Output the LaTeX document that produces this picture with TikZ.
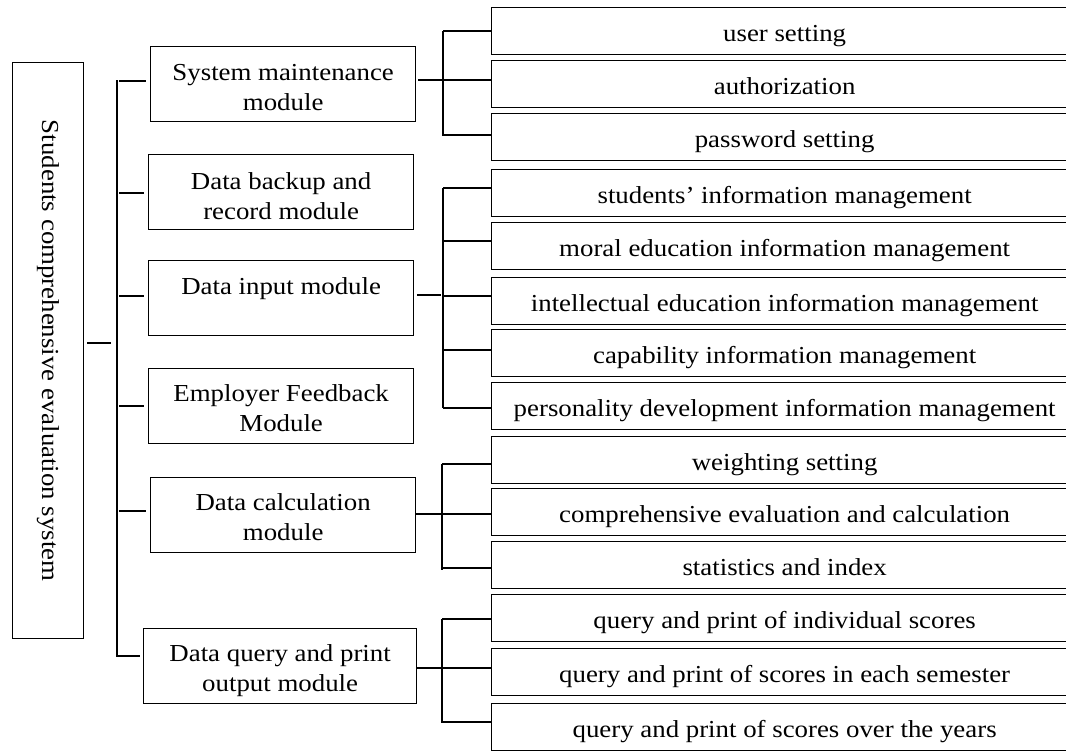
\documentclass[tikz,border=0pt]{standalone}
\usepackage{fontspec}
\setmainfont{Liberation Serif}[FakeStretch=1.1]
\begin{document}
\begin{tikzpicture}[x=1pt,y=-1pt,
  font=\fontsize{24.4}{30}\selectfont,
  box/.style={draw, line width=1.3pt, inner sep=0pt, anchor=north west},
  modbox/.style={box, minimum width=#1, minimum height=75pt},
  leaf/.style={box, minimum width=586pt, minimum height=47pt, text height=21pt, text depth=0pt},
  lbl/.style={anchor=base, align=center, inner sep=0pt},
  wire/.style={line width=1.3pt}]
\useasboundingbox (0,0) rectangle (1066,750);
\clip (0,0) rectangle (1066,750);

% root
\node[box, minimum width=71pt, minimum height=576pt] (root) at (12,62) {};
\node[rotate=-90, inner sep=0pt] (rootT) at (root.center) {Students comprehensive evaluation system};

% modules
\node[modbox=265pt] (sys)  at (150,46)  {};
\node[modbox=265pt] (bak)  at (148,154) {};
\node[modbox=265pt] (inp)  at (148,260) {};
\node[modbox=265pt] (emp)  at (148,368) {};
\node[modbox=265pt] (calc) at (150,477) {};
\node[modbox=273pt] (qry)  at (143,628) {};

% the base anchor of a two-line label sits on its second line
\node[lbl] (sysT)  at ([yshift=-64pt]sys.north)  {System maintenance\\module};
\node[lbl] (bakT)  at ([yshift=-65pt]bak.north)  {Data backup and\\record module};
\node[lbl] (inpT)  at ([yshift=-34pt]inp.north)  {Data input module};
\node[lbl] (empT)  at ([yshift=-63pt]emp.north)  {Employer Feedback\\Module};
\node[lbl] (calcT) at ([yshift=-63pt]calc.north) {Data calculation\\module};
\node[lbl] (qryT)  at ([yshift=-63pt]qry.north)  {Data query and print\\output module};

% leaves
\node[leaf] (u1) at (491,7)   {user setting};
\node[leaf] (u2) at (491,60)  {authorization};
\node[leaf] (u3) at (491,113) {password setting};
\node[leaf] (i1) at (491,169) {students’ information management};
\node[leaf] (i2) at (491,222) {moral education information management};
\node[leaf] (i3) at (491,277) {intellectual education information management};
\node[leaf] (i4) at (491,329) {capability information management};
\node[leaf] (i5) at (491,382) {personality development information management};
\node[leaf] (c1) at (491,436) {weighting setting};
\node[leaf] (c2) at (491,488) {comprehensive evaluation and calculation};
\node[leaf] (c3) at (491,541) {statistics and index};
\node[leaf] (q1) at (491,594) {query and print of individual scores};
\node[leaf] (q2) at (491,648) {query and print of scores in each semester};
\node[leaf] (q3) at (491,703) {query and print of scores over the years};

% main bus
\coordinate (busT) at (117,80);
\coordinate (busB) at (117,657);
\coordinate (busR) at (111,343);
\draw[wire] (busT) -- (busB);
\draw[wire, shorten <=3pt] (root.east |- busR) -- (busR);
\foreach \m/\y in {sys/81, bak/193, inp/296, emp/406, calc/511} {
  \coordinate (j\m) at (117,\y);
  \draw[wire, shorten <=2pt, shorten >=4pt] (j\m) -- (j\m -| \m.west);
}
\coordinate (jqry) at (117,656);
\draw[wire, shorten >=3pt] (jqry) -- (jqry -| qry.west);

% system maintenance branch
\coordinate (sA) at (443,31);
\coordinate (sB) at (443,136);
\coordinate (sJ) at (443,80);
\draw[wire] (sA) -- (sB);
\draw[wire, shorten <=2pt] (sJ -| sys.east) -- (sJ);
\foreach \l/\y in {u1/31, u2/80, u3/135} {
  \coordinate (k\l) at (443,\y);
  \draw[wire] (k\l) -- (k\l -| \l.west);
}

% data input branch
\coordinate (iA) at (443,188);
\coordinate (iB) at (443,408);
\coordinate (iJ) at (441,295);
\draw[wire] (iA) -- (iB);
\draw[wire, shorten <=3pt] (iJ -| inp.east) -- (iJ);
\foreach \l/\y in {i1/188, i2/241, i3/296, i4/350, i5/408} {
  \coordinate (k\l) at (443,\y);
  \draw[wire] (k\l) -- (k\l -| \l.west);
}

% data calculation branch
\coordinate (cA) at (442,464);
\coordinate (cB) at (442,570);
\coordinate (cJ) at (442,514);
\draw[wire] (cA) -- (cB);
\draw[wire] (cJ -| calc.east) -- (cJ);
\foreach \l/\y in {c1/464, c2/514, c3/568} {
  \coordinate (k\l) at (442,\y);
  \draw[wire] (k\l) -- (k\l -| \l.west);
}

% data query branch
\coordinate (qA) at (442,619);
\coordinate (qB) at (442,723);
\coordinate (qJ) at (442,668);
\draw[wire] (qA) -- (qB);
\draw[wire] (qJ -| qry.east) -- (qJ);
\foreach \l/\y in {q1/619, q2/668, q3/722} {
  \coordinate (k\l) at (442,\y);
  \draw[wire] (k\l) -- (k\l -| \l.west);
}
\end{tikzpicture}
\end{document}
